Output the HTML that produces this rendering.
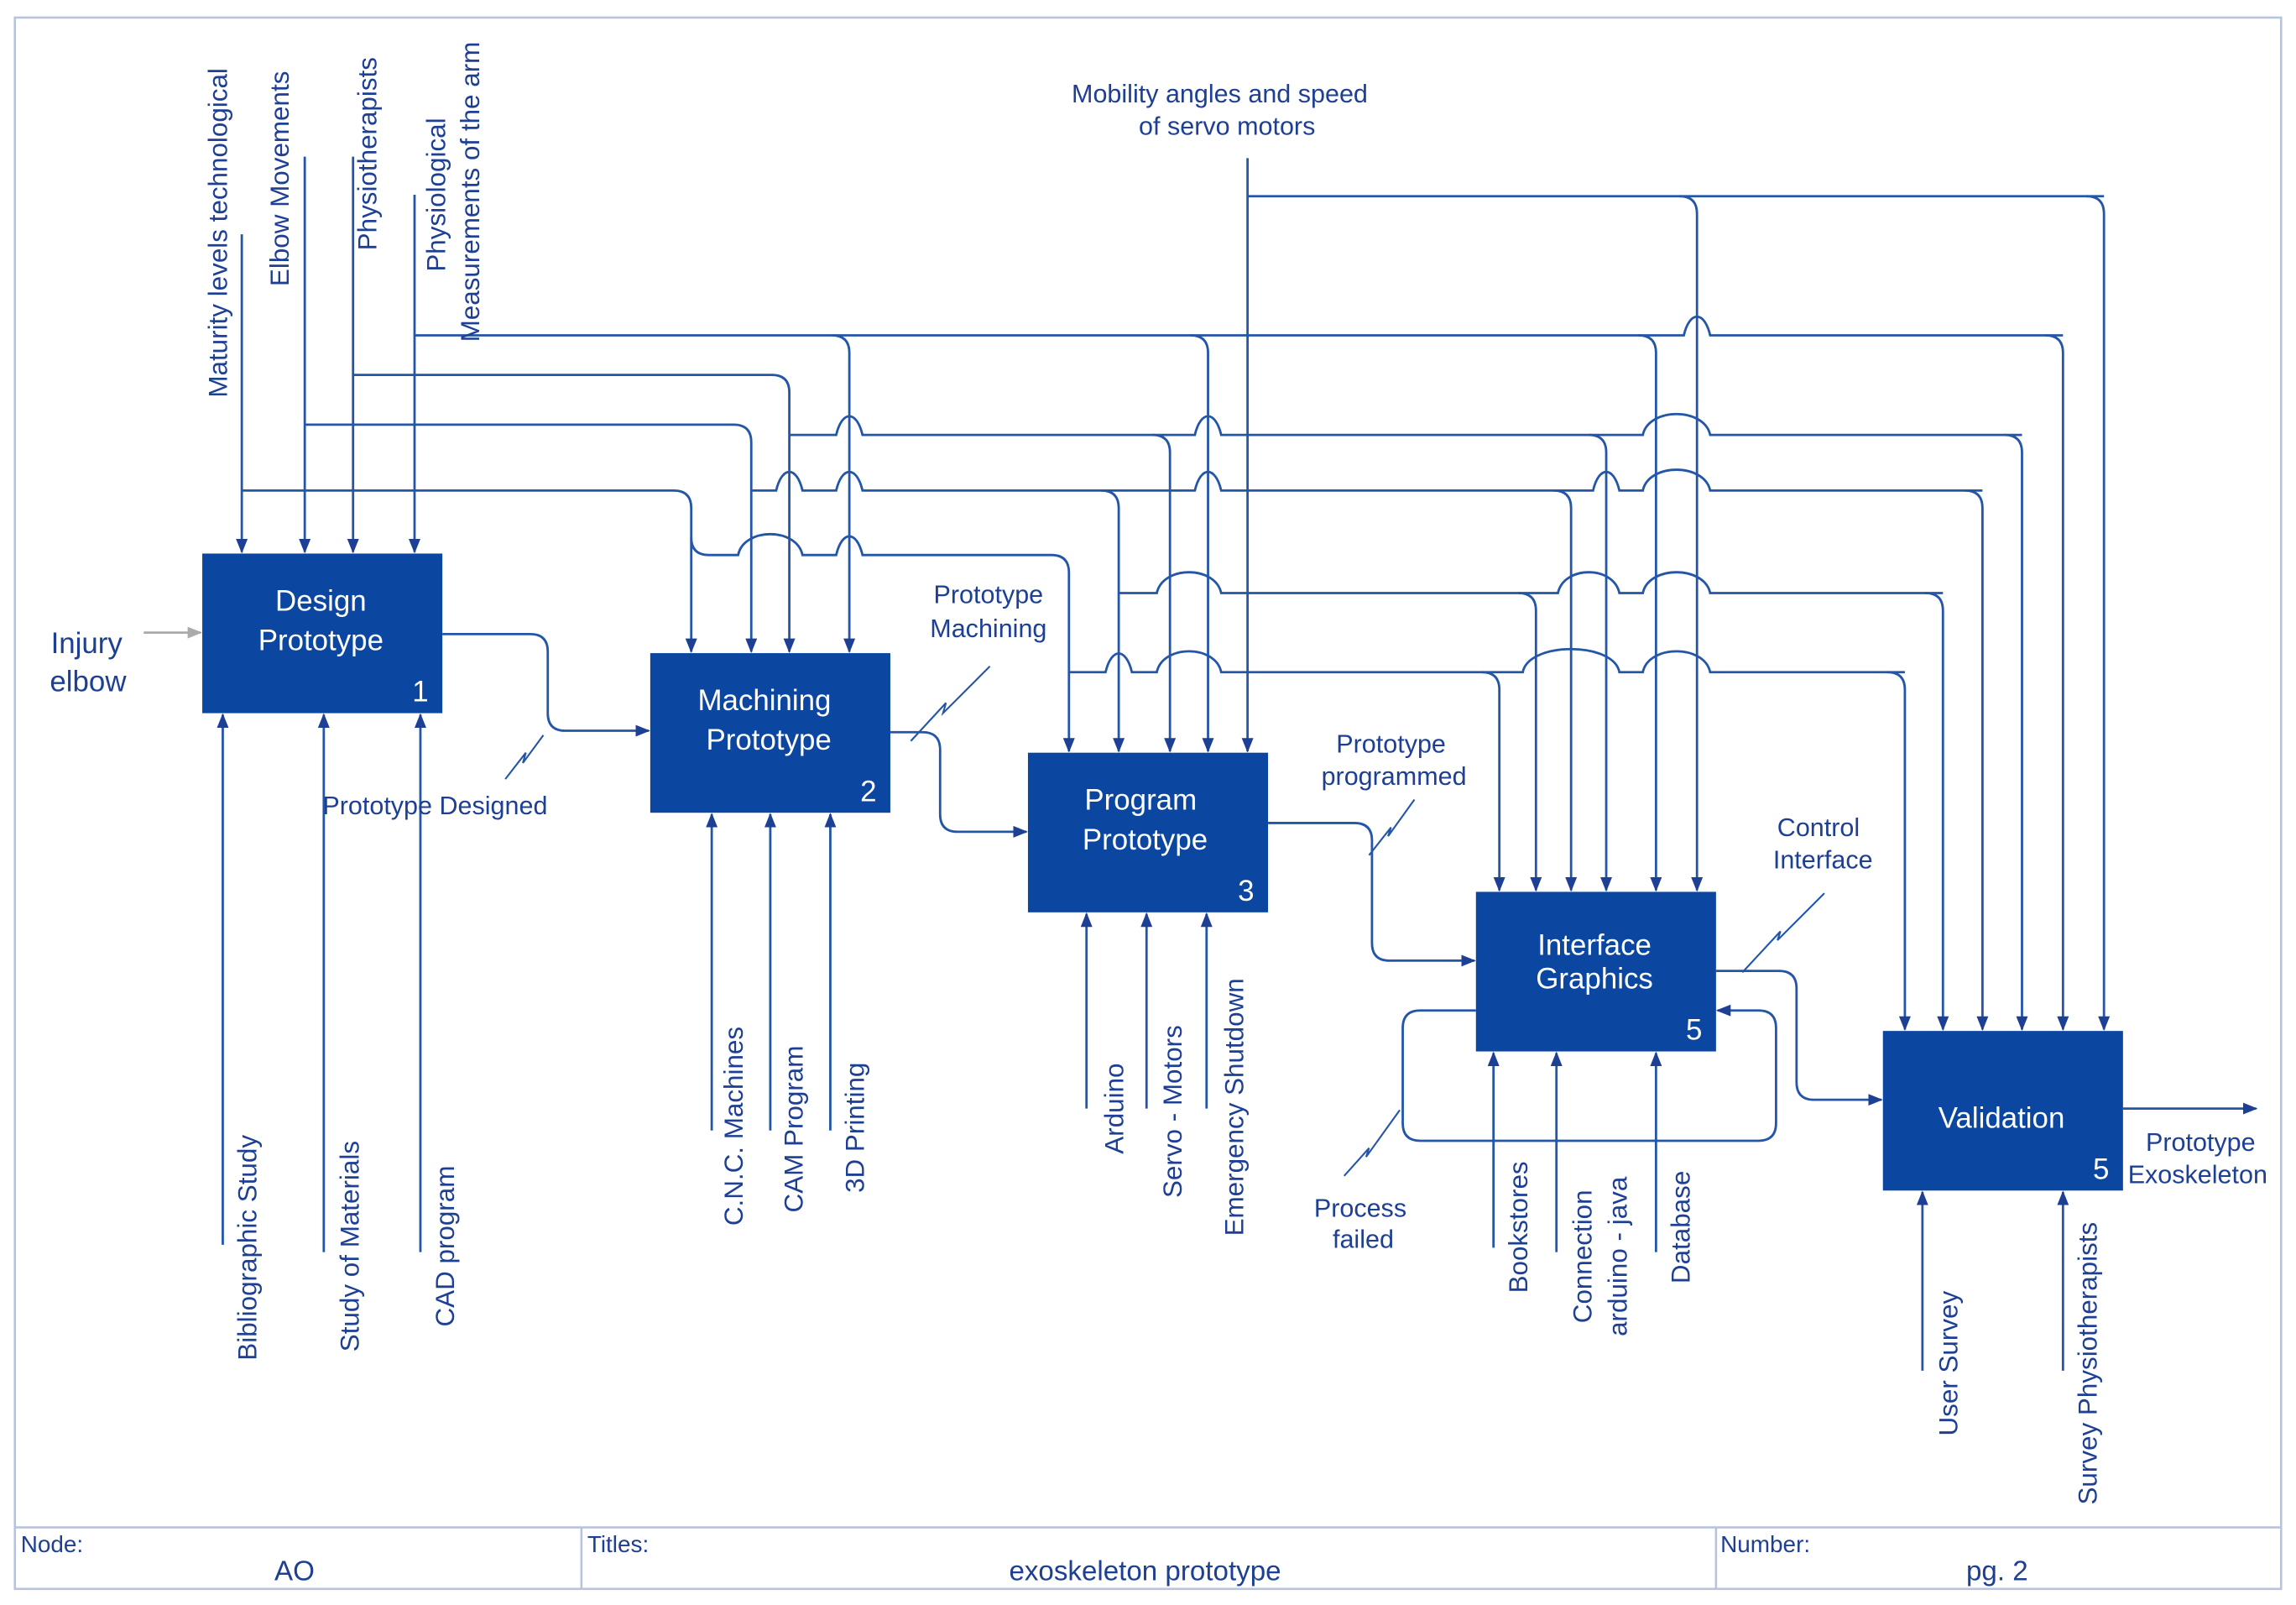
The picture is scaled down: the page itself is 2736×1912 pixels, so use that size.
<!DOCTYPE html>
<html><head><meta charset="utf-8"><style>
html,body{margin:0;padding:0;background:#fff;}
svg{display:block;}
text{font-family:"Liberation Sans",sans-serif;fill:#1d3f94;}
.b{fill:#fff;font-size:20px;}
.l{font-size:17.5px;}
.r{font-family:"DejaVu Sans","Liberation Sans",sans-serif;font-size:18px;}
</style></head><body>
<svg width="2736" height="1912" viewBox="0 0 1568 1096" xmlns="http://www.w3.org/2000/svg">
<defs>
<marker id="a" markerWidth="10" markerHeight="8" refX="9" refY="4" orient="auto" markerUnits="userSpaceOnUse"><path d="M0,0 L10,4 L0,8 z" fill="#1d3f94"/></marker>
<marker id="g" markerWidth="10" markerHeight="8" refX="9" refY="4" orient="auto" markerUnits="userSpaceOnUse"><path d="M0,0 L10,4 L0,8 z" fill="#aaa"/></marker>
</defs>
<rect x="10" y="12" width="1548" height="1073" fill="none" stroke="#b8c4dc" stroke-width="1.5"/>
<line x1="10" y1="1043" x2="1558" y2="1043" stroke="#b8c4dc" stroke-width="1.5"/>
<line x1="397" y1="1043" x2="397" y2="1085" stroke="#b8c4dc" stroke-width="1.5"/>
<line x1="1172" y1="1043" x2="1172" y2="1085" stroke="#b8c4dc" stroke-width="1.5"/>
<text x="14" y="1060" font-size="16">Node:</text>
<text x="201" y="1079" font-size="19" text-anchor="middle">AO</text>
<text x="401" y="1060" font-size="16">Titles:</text>
<text x="782" y="1079" font-size="19" text-anchor="middle">exoskeleton prototype</text>
<text x="1175" y="1060" font-size="16">Number:</text>
<text x="1364" y="1079" font-size="19" text-anchor="middle">pg. 2</text>

<g fill="none" stroke="#2456a8" stroke-width="1.6">
<line x1="165" y1="160" x2="165" y2="377" marker-end="url(#a)"/>
<line x1="208" y1="107" x2="208" y2="377" marker-end="url(#a)"/>
<line x1="241" y1="107" x2="241" y2="377" marker-end="url(#a)"/>
<line x1="283" y1="133" x2="283" y2="377" marker-end="url(#a)"/>
<line x1="852" y1="108" x2="852" y2="513" marker-end="url(#a)"/>
<path d="M283,229 L1150,229 C1154,212 1164,212 1168,229 L1409,229"/>
<path d="M241,256 L527,256 Q539,256 539,268 L539,445" marker-end="url(#a)"/>
<path d="M208,290 L501,290 Q513,290 513,302 L513,445" marker-end="url(#a)"/>
<path d="M165,335 L460,335 Q472,335 472,347 L472,445" marker-end="url(#a)"/>
<path d="M472,367 Q472,379 484,379 L504,379 C508,360 544,360 548,379 L571,379 C575,362 585,362 589,379 L718,379 Q730,379 730,391 L730,513" marker-end="url(#a)"/>
<path d="M539,297 L571,297 C575,280 585,280 589,297 L816,297 C820,280 830,280 834,297 L1122,297 C1126,278 1164,278 1168,297 L1381,297"/>
<path d="M513,335 L530,335 C534,318 544,318 548,335 L571,335 C575,318 585,318 589,335 L816,335 C820,318 830,318 834,335 L1088,335 C1092,318 1102,318 1106,335 L1122,335 C1126,316 1164,316 1168,335 L1354,335"/>
<path d="M764,405 L790,405 C794,386 830,386 834,405 L1064,405 C1068,386 1102,386 1106,405 L1122,405 C1126,386 1164,386 1168,405 L1327,405"/>
<path d="M730,459 L755,459 C759,442 769,442 773,459 L790,459 C794,440 830,440 834,459 L1040,459 C1044,438 1102,438 1106,459 L1122,459 C1126,440 1164,440 1168,459 L1301,459"/>
<path d="M852,134 L1437,134"/>
<path d="M568,229 Q580,229 580,241 L580,445" marker-end="url(#a)"/>
<path d="M813,229 Q825,229 825,241 L825,513" marker-end="url(#a)"/>
<path d="M1119,229 Q1131,229 1131,241 L1131,608" marker-end="url(#a)"/>
<path d="M1397,229 Q1409,229 1409,241 L1409,703" marker-end="url(#a)"/>
<path d="M787,297 Q799,297 799,309 L799,513" marker-end="url(#a)"/>
<path d="M1085,297 Q1097,297 1097,309 L1097,608" marker-end="url(#a)"/>
<path d="M1369,297 Q1381,297 1381,309 L1381,703" marker-end="url(#a)"/>
<path d="M752,335 Q764,335 764,347 L764,513" marker-end="url(#a)"/>
<path d="M1061,335 Q1073,335 1073,347 L1073,608" marker-end="url(#a)"/>
<path d="M1342,335 Q1354,335 1354,347 L1354,703" marker-end="url(#a)"/>
<path d="M1037,405 Q1049,405 1049,417 L1049,608" marker-end="url(#a)"/>
<path d="M1315,405 Q1327,405 1327,417 L1327,703" marker-end="url(#a)"/>
<path d="M1012,459 Q1024,459 1024,471 L1024,608" marker-end="url(#a)"/>
<path d="M1289,459 Q1301,459 1301,471 L1301,703" marker-end="url(#a)"/>
<path d="M1147,134 Q1159,134 1159,146 L1159,608" marker-end="url(#a)"/>
<path d="M1425,134 Q1437,134 1437,146 L1437,703" marker-end="url(#a)"/>
<path d="M302,433 L362,433 Q374,433 374,445 L374,487 Q374,499 386,499 L443,499" marker-end="url(#a)"/>
<path d="M608,500 L630,500 Q642,500 642,512 L642,556 Q642,568 654,568 L701,568" marker-end="url(#a)"/>
<path d="M866,562 L925,562 Q937,562 937,574 L937,644 Q937,656 949,656 L1007,656" marker-end="url(#a)"/>
<path d="M1172,663 L1215,663 Q1227,663 1227,675 L1227,739 Q1227,751 1239,751 L1285,751" marker-end="url(#a)"/>
<path d="M1008,690 L970,690 Q958,690 958,702 L958,767 Q958,779 970,779 L1201,779 Q1213,779 1213,767 L1213,702 Q1213,690 1201,690 L1173,690" marker-end="url(#a)"/>
<path d="M1450,757 L1541,757" marker-end="url(#a)"/>
<line x1="152" y1="850" x2="152" y2="488" marker-end="url(#a)"/>
<line x1="221" y1="855" x2="221" y2="488" marker-end="url(#a)"/>
<line x1="287" y1="855" x2="287" y2="488" marker-end="url(#a)"/>
<line x1="486" y1="772" x2="486" y2="556" marker-end="url(#a)"/>
<line x1="526" y1="772" x2="526" y2="556" marker-end="url(#a)"/>
<line x1="567" y1="772" x2="567" y2="556" marker-end="url(#a)"/>
<line x1="742" y1="757" x2="742" y2="624" marker-end="url(#a)"/>
<line x1="783" y1="757" x2="783" y2="624" marker-end="url(#a)"/>
<line x1="824" y1="757" x2="824" y2="624" marker-end="url(#a)"/>
<line x1="1020" y1="852" x2="1020" y2="719" marker-end="url(#a)"/>
<line x1="1063" y1="855" x2="1063" y2="719" marker-end="url(#a)"/>
<line x1="1131" y1="855" x2="1131" y2="719" marker-end="url(#a)"/>
<line x1="1313" y1="936" x2="1313" y2="814" marker-end="url(#a)"/>
<line x1="1409" y1="936" x2="1409" y2="814" marker-end="url(#a)"/>
<path d="M345,532 L359,514 L357,521 L371,502" stroke-width="1.2"/>
<path d="M622,506 L646,480 L644,487 L676,455" stroke-width="1.2"/>
<path d="M935,584 L950,565 L948,571 L966,546" stroke-width="1.2"/>
<path d="M1190,664 L1216,636 L1214,642 L1246,610" stroke-width="1.2"/>
<path d="M918,803 L935,784 L933,790 L956,758" stroke-width="1.2"/>
</g>
<line x1="98" y1="432" x2="137" y2="432" stroke="#aaa" stroke-width="1.6" marker-end="url(#g)"/>

<g fill="#0b47a1">
<rect x="138" y="378" width="164" height="109"/>
<rect x="444" y="446" width="164" height="109"/>
<rect x="702" y="514" width="164" height="109"/>
<rect x="1008" y="609" width="164" height="109"/>
<rect x="1286" y="704" width="164" height="109"/>
</g>
<text class="b" x="219" y="417" text-anchor="middle">Design</text>
<text class="b" x="219" y="444" text-anchor="middle">Prototype</text>
<text class="b" x="287" y="479" text-anchor="middle">1</text>
<text class="b" x="522" y="485" text-anchor="middle">Machining</text>
<text class="b" x="525" y="512" text-anchor="middle">Prototype</text>
<text class="b" x="593" y="547" text-anchor="middle">2</text>
<text class="b" x="779" y="553" text-anchor="middle">Program</text>
<text class="b" x="782" y="580" text-anchor="middle">Prototype</text>
<text class="b" x="851" y="615" text-anchor="middle">3</text>
<text class="b" x="1089" y="652" text-anchor="middle">Interface</text>
<text class="b" x="1089" y="675" text-anchor="middle">Graphics</text>
<text class="b" x="1157" y="710" text-anchor="middle">5</text>
<text class="b" x="1367" y="770" text-anchor="middle">Validation</text>
<text class="b" x="1435" y="805" text-anchor="middle">5</text>

<text x="59" y="446" font-size="20" text-anchor="middle">Injury</text>
<text x="60" y="472" font-size="20" text-anchor="middle">elbow</text>
<text class="l" x="297" y="556" text-anchor="middle">Prototype Designed</text>
<text class="l" x="675" y="412" text-anchor="middle">Prototype</text>
<text class="l" x="675" y="435" text-anchor="middle">Machining</text>
<text class="l" x="950" y="514" text-anchor="middle">Prototype</text>
<text class="l" x="952" y="536" text-anchor="middle">programmed</text>
<text class="l" x="1242" y="571" text-anchor="middle">Control</text>
<text class="l" x="1245" y="593" text-anchor="middle">Interface</text>
<text class="l" x="929" y="831" text-anchor="middle">Process</text>
<text class="l" x="931" y="852" text-anchor="middle">failed</text>
<text class="l" x="1503" y="786" text-anchor="middle">Prototype</text>
<text class="l" x="1501" y="808" text-anchor="middle">Exoskeleton</text>
<text class="l" x="833" y="70" text-anchor="middle">Mobility angles and speed</text>
<text class="l" x="838" y="92" text-anchor="middle">of servo motors</text>

<g class="r" text-anchor="middle">
<text transform="translate(155,159) rotate(-90)">Maturity levels technological</text>
<text transform="translate(197,122) rotate(-90)">Elbow Movements</text>
<text transform="translate(257,105) rotate(-90)">Physiotherapists</text>
<text transform="translate(304,133) rotate(-90)">Physiological</text>
<text transform="translate(327,131) rotate(-90)">Measurements of the arm</text>
<text transform="translate(175,852) rotate(-90)">Bibliographic Study</text>
<text transform="translate(245,851) rotate(-90)">Study of Materials</text>
<text transform="translate(310,851) rotate(-90)">CAD program</text>
<text transform="translate(507,769) rotate(-90)">C.N.C. Machines</text>
<text transform="translate(548,771) rotate(-90)">CAM Program</text>
<text transform="translate(590,770) rotate(-90)">3D Printing</text>
<text transform="translate(767,757) rotate(-90)">Arduino</text>
<text transform="translate(807,759) rotate(-90)">Servo - Motors</text>
<text transform="translate(849,756) rotate(-90)">Emergency Shutdown</text>
<text transform="translate(1043,838) rotate(-90)">Bookstores</text>
<text transform="translate(1087,858) rotate(-90)">Connection</text>
<text transform="translate(1111,858) rotate(-90)">arduino - java</text>
<text transform="translate(1154,838) rotate(-90)">Database</text>
<text transform="translate(1337,931) rotate(-90)">User Survey</text>
<text transform="translate(1432,931) rotate(-90)">Survey Physiotherapists</text>
</g>
</svg>
</body></html>
